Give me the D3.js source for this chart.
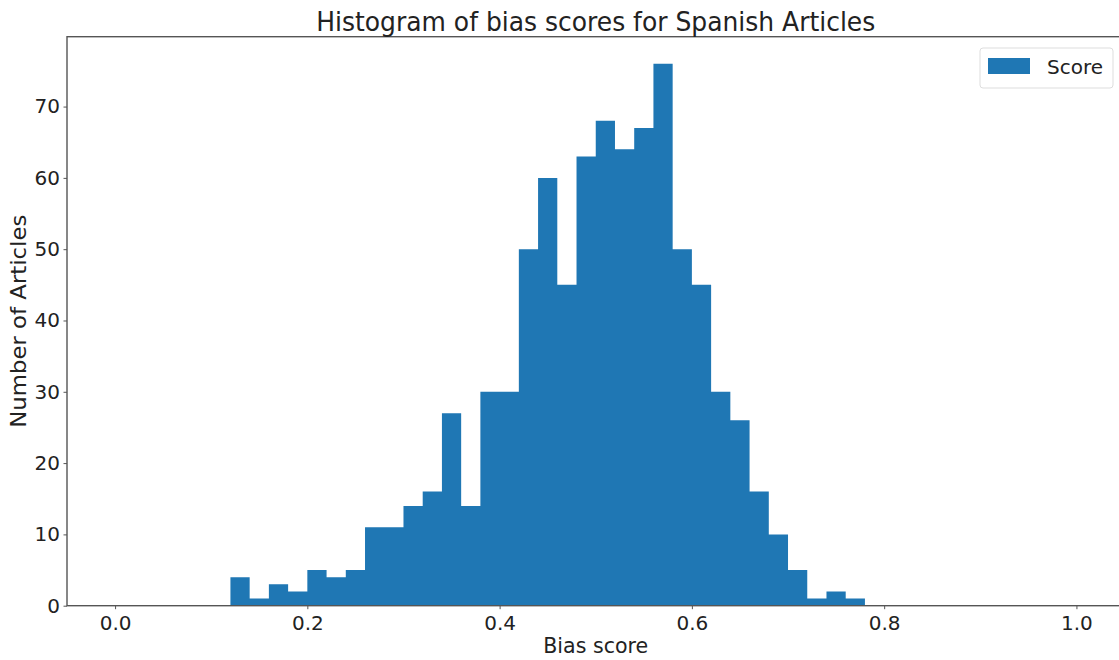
<!DOCTYPE html>
<html>
<head>
<meta charset="utf-8">
<script src="https://cdn.jsdelivr.net/npm/d3@7"></script>
<style>
  body { margin: 0; background: #fff; }
  text { font-family: "DejaVu Sans", sans-serif; fill: #222; }
</style>
</head>
<body>
<div id="chart"></div>
<script>
// bin edges (bias score) and article counts per bin
const binEdges = [0.12, 0.14, 0.16, 0.18, 0.20, 0.22, 0.24, 0.26, 0.28, 0.30,
  0.32, 0.34, 0.36, 0.38, 0.40, 0.42, 0.44, 0.46, 0.48, 0.50, 0.52, 0.54,
  0.56, 0.58, 0.60, 0.62, 0.64, 0.66, 0.68, 0.70, 0.72, 0.74, 0.76, 0.78];
const counts = [4, 1, 3, 2, 5, 4, 5, 11, 11, 14, 16, 27, 14, 30, 30, 50, 60,
  45, 63, 68, 64, 67, 76, 50, 45, 30, 26, 16, 10, 5, 1, 2, 1];
const xTicks = [0.0, 0.2, 0.4, 0.6, 0.8, 1.0];
const yTicks = [0, 10, 20, 30, 40, 50, 60, 70];

const width = 1119, height = 660;
const margin = { top: 36.7, right: -5.5, bottom: 54.3, left: 67 };

// one point per bin edge; the last edge repeats the last count so the step closes
const steps = binEdges.map((e, i) => ({ x: e, count: counts[Math.min(i, counts.length - 1)] }));

const x = d3.scaleLinear()
  .domain([-0.05, 1.05])
  .range([margin.left, width - margin.right]);

const y = d3.scaleLinear()
  .domain([0, d3.max(counts) * 1.05])
  .range([height - margin.bottom, margin.top]);

const svg = d3.select("#chart")
  .append("svg")
  .attr("width", width)
  .attr("height", height);

// bars, drawn as one stepped area so neighbouring bins show no seams
const area = d3.area()
  .curve(d3.curveStepAfter)
  .x(d => x(d.x))
  .y0(y(0))
  .y1(d => y(d.count));

svg.append("path")
  .datum(steps)
  .attr("class", "bar")
  .attr("d", area)
  .attr("fill", "#1f77b4");

// axes
const xAxis = svg.append("g")
  .attr("transform", "translate(0," + y(0) + ")")
  .call(d3.axisBottom(x).tickValues(xTicks).tickFormat(d3.format(".1f"))
    .tickSize(3.5).tickPadding(6.6).tickSizeOuter(0));

const yAxis = svg.append("g")
  .attr("transform", "translate(" + margin.left + ",0)")
  .call(d3.axisLeft(y).tickValues(yTicks).tickSize(3.5).tickPadding(3.5).tickSizeOuter(0));

[xAxis, yAxis].forEach(g => {
  g.select(".domain").remove();
  g.selectAll("line").attr("stroke", "#555");
  g.selectAll("text").style("font-size", "20px").attr("fill", "#222");
});

// frame
svg.append("rect")
  .attr("x", x.range()[0])
  .attr("y", y.range()[1])
  .attr("width", x.range()[1] - x.range()[0])
  .attr("height", y.range()[0] - y.range()[1])
  .attr("fill", "none")
  .attr("stroke", "#555")
  .attr("stroke-width", 1.4);

// title and labels
const cx = (x.range()[0] + x.range()[1]) / 2;
svg.append("text")
  .attr("x", cx)
  .attr("y", 31)
  .attr("text-anchor", "middle")
  .attr("textLength", 559)
  .attr("lengthAdjust", "spacingAndGlyphs")
  .style("font-size", "27px")
  .text("Histogram of bias scores for Spanish Articles");

svg.append("text")
  .attr("x", cx)
  .attr("y", 652.5)
  .attr("text-anchor", "middle")
  .attr("textLength", 105)
  .attr("lengthAdjust", "spacingAndGlyphs")
  .style("font-size", "21px")
  .text("Bias score");

svg.append("text")
  .attr("transform", "translate(26," + ((y.range()[0] + y.range()[1]) / 2) + ") rotate(-90)")
  .attr("text-anchor", "middle")
  .attr("textLength", 213)
  .attr("lengthAdjust", "spacingAndGlyphs")
  .style("font-size", "21px")
  .text("Number of Articles");

// legend
const legend = svg.append("g").attr("transform", "translate(980,48)");
legend.append("rect")
  .attr("width", 133).attr("height", 40).attr("rx", 3)
  .attr("fill", "#fff").attr("stroke", "#ddd");
legend.append("rect")
  .attr("x", 8).attr("y", 10).attr("width", 42).attr("height", 16)
  .attr("fill", "#1f77b4");
legend.append("text")
  .attr("x", 67).attr("y", 26)
  .style("font-size", "20px")
  .text("Score");
</script>
</body>
</html>
